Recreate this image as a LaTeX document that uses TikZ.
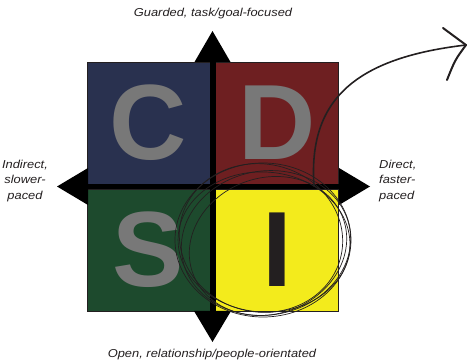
\documentclass[tikz,border=0pt]{standalone}
\usepackage{fontspec}
\setmainfont{Liberation Sans}
\newfontfamily\lblfont[FakeStretch=1.12]{Liberation Sans}
\definecolor{cblue}{HTML}{29314F}
\definecolor{dred}{HTML}{6E1F21}
\definecolor{sgreen}{HTML}{1D4A2D}
\definecolor{iyellow}{HTML}{F3EB1C}
\definecolor{letgray}{HTML}{787878}
\definecolor{ink}{HTML}{231F20}
\begin{document}
\begin{tikzpicture}[x=1pt,y=-1pt,
  quad/.style={draw=ink, line width=0.8pt, minimum width=123pt, minimum height=122pt, inner sep=0pt,
    font=\fontsize{107}{107}\selectfont\bfseries},
  lbl/.style={text=ink, font=\lblfont\fontsize{11.5}{15.5}\selectfont\itshape, inner sep=0pt},
  tri/.style={fill=black},
  scrib/.style={draw=ink, line width=0.7pt},
  hand/.style={draw=ink, line width=1.6pt, line cap=round}]
\useasboundingbox (0,0) rectangle (467,361);
% squares
\node[quad, fill=cblue, text=letgray] (C) at (148.5,123) {C};
\node[quad, fill=dred, text=letgray] (D) at (277,123) {D};
\node[quad, fill=sgreen, text=letgray] (S) at (148.5,250) {S};
\node[quad, fill=iyellow, text=ink] (I) at (277,250) {I};
% cross
\fill[black] (210,62) rectangle (215.5,311);
\fill[black] (87,184) rectangle (339,189);
% triangles
\fill[tri] (194.5,62) -- (212.5,31) -- (230.5,62) -- cycle;
\fill[tri] (194,311) -- (212.5,342) -- (231,311) -- cycle;
\fill[tri] (88,168) -- (57,186.5) -- (88,205) -- cycle;
\fill[tri] (339,168) -- (370,186.5) -- (339,205) -- cycle;
% labels
\node[lbl, anchor=base] (top) at (213,17) {Guarded, task/goal-focused};
\node[lbl, anchor=base] (bot) at (212,357) {Open, relationship/people-orientated};
\node[lbl, align=center] (left) at (25,181) {Indirect,\\slower-\\paced};
\node[lbl, align=left, anchor=west] (right) at (379,181) {Direct,\\faster-\\paced};
% scribble loops
\draw[scrib] (263,240) ellipse [x radius=88, y radius=77];
\draw[scrib] (266,243) ellipse [x radius=85, y radius=72, rotate=10];
\draw[scrib] (261,238) ellipse [x radius=82, y radius=74, rotate=-12];
\draw[scrib] (268,246) ellipse [x radius=80, y radius=68, rotate=20];
\draw[scrib] (264,242) ellipse [x radius=86, y radius=70, rotate=-4];
% hand arrow
\coordinate (s0) at (314,186);
\coordinate (tip) at (466,45);
\draw[hand] (s0) .. controls (308,100) and (355,58) .. (tip);
\draw[hand, line width=2pt] (443,28) .. controls (455,36) .. (tip) .. controls (455,60) .. (447,80);
\end{tikzpicture}
\end{document}
